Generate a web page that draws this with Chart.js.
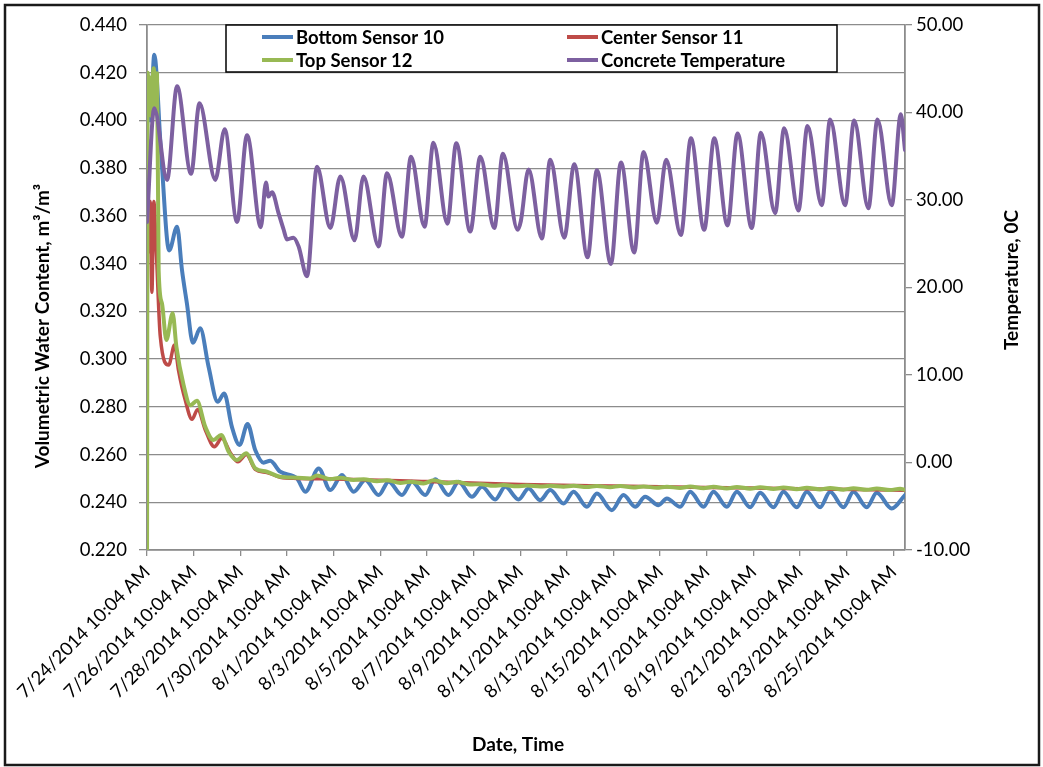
<!DOCTYPE html>
<html><head><meta charset="utf-8">
<script src="https://cdn.jsdelivr.net/npm/chart.js@4.4.0/dist/chart.umd.min.js"></script>
<style>html,body{margin:0;padding:0;background:#fff;}canvas{display:block;}</style>
</head><body>
<canvas id="c" width="1043" height="767" style="width:1043px;height:767px"></canvas>
<script>
// x values are days since 7/24/2014 10:04 AM
const tickDays = [0,2,4,6,8,10,12,14,16,18,20,22,24,26,28,30,32];
const tickLabels = ['7/24/2014 10:04 AM','7/26/2014 10:04 AM','7/28/2014 10:04 AM','7/30/2014 10:04 AM','8/1/2014 10:04 AM','8/3/2014 10:04 AM','8/5/2014 10:04 AM','8/7/2014 10:04 AM','8/9/2014 10:04 AM','8/11/2014 10:04 AM','8/13/2014 10:04 AM','8/15/2014 10:04 AM','8/17/2014 10:04 AM','8/19/2014 10:04 AM','8/21/2014 10:04 AM','8/23/2014 10:04 AM','8/25/2014 10:04 AM'];
const leftTicks = [0.22,0.24,0.26,0.28,0.30,0.32,0.34,0.36,0.38,0.40,0.42,0.44];
const rightTicks = [-10,0,10,20,30,40,50];

const bottomDays = [0.00,0.08,0.15,0.31,0.60,0.95,1.29,1.50,1.71,1.97,2.28,2.64,3.03,3.31,3.64,3.97,4.31,4.64,5.00,5.28,5.71,6.43,6.79,7.36,7.86,8.36,8.86,9.36,9.93,10.36,10.93,11.36,11.93,12.36,12.93,13.36,13.93,14.36,14.93,15.36,15.93,16.36,16.86,17.29,17.86,18.29,18.86,19.29,19.93,20.43,20.93,21.36,21.93,22.29,22.86,23.29,23.86,24.29,24.86,25.29,25.86,26.29,26.86,27.29,27.86,28.29,28.86,29.29,29.86,30.29,30.86,31.29,31.93,32.50];
const bottomVals = [0.395,0.418,0.400,0.4275,0.387,0.3455,0.3555,0.3373,0.3234,0.3068,0.3129,0.2968,0.2821,0.2856,0.2716,0.2640,0.2728,0.2619,0.2566,0.2574,0.2528,0.2500,0.2444,0.2542,0.2451,0.2514,0.2444,0.2493,0.2430,0.2486,0.2430,0.2486,0.2430,0.2496,0.2430,0.2486,0.2423,0.2465,0.2412,0.2465,0.2412,0.2458,0.2409,0.2451,0.2395,0.2444,0.2381,0.2437,0.2367,0.2430,0.2381,0.2423,0.2388,0.2416,0.2381,0.2444,0.2381,0.2444,0.2381,0.2444,0.2379,0.2440,0.2379,0.2444,0.2379,0.2444,0.2379,0.2444,0.2379,0.2444,0.2379,0.2440,0.2374,0.2430];

const centerDays = [0.00,0.03,0.08,0.14,0.21,0.29,0.40,0.57,0.93,1.18,1.35,1.64,1.93,2.17,2.50,2.89,3.21,3.57,3.90,4.26,4.64,5.14,5.71,6.43,8.00,12.00,16.00,20.00,24.00,28.00,32.50];
const centerVals = [0.255,0.392,0.345,0.366,0.328,0.366,0.345,0.3094,0.2975,0.3059,0.2954,0.2828,0.2748,0.2789,0.2703,0.2633,0.2668,0.2608,0.2570,0.2600,0.2538,0.2525,0.2505,0.2500,0.2498,0.2487,0.2475,0.2468,0.2462,0.2457,0.2450];

const topDays = [0.00,0.03,0.08,0.13,0.18,0.25,0.29,0.36,0.43,0.50,0.64,0.83,1.10,1.26,1.57,1.86,2.14,2.50,2.85,3.18,3.50,3.86,4.26,4.64,5.14,5.71,6.43,7.00,7.29,7.86,8.29,8.86,9.29,9.86,10.29,10.86,11.29,11.86,12.29,12.86,13.29,13.86,14.29,14.86,15.29,15.86,16.29,16.86,17.29,17.86,18.29,18.86,19.29,19.86,20.29,20.86,21.29,21.86,22.29,22.86,23.29,23.86,24.29,24.86,25.29,25.86,26.29,26.86,27.29,27.86,28.29,28.86,29.29,29.86,30.29,30.86,31.29,31.86,32.29,32.50];
const topVals = [0.200,0.420,0.405,0.418,0.402,0.419,0.4219,0.405,0.4198,0.337,0.3234,0.308,0.3192,0.3052,0.2891,0.2807,0.2825,0.2716,0.2661,0.2682,0.2612,0.2577,0.2605,0.2542,0.2528,0.2507,0.2503,0.2500,0.2512,0.2497,0.2503,0.2493,0.2497,0.2488,0.2492,0.2481,0.2486,0.2479,0.2492,0.2480,0.2486,0.2474,0.2476,0.2469,0.2472,0.2467,0.2470,0.2466,0.2469,0.2465,0.2469,0.2464,0.2468,0.2463,0.2468,0.2462,0.2466,0.2461,0.2465,0.2460,0.2466,0.2459,0.2465,0.2458,0.2464,0.2457,0.2463,0.2456,0.2462,0.2455,0.2461,0.2454,0.2460,0.2453,0.2459,0.2452,0.2458,0.2451,0.2457,0.2452];

const tempDays = [0.00,0.31,0.86,1.29,1.89,2.25,2.93,3.33,3.86,4.29,4.88,5.10,5.21,5.36,5.64,5.86,6.00,6.28,6.50,6.86,7.29,7.86,8.29,8.90,9.28,9.93,10.29,10.93,11.32,11.90,12.28,12.88,13.26,13.86,14.29,14.89,15.26,15.89,16.03,16.36,16.93,17.29,17.89,18.32,18.89,19.29,19.89,20.32,20.89,21.29,21.86,22.26,22.89,23.32,23.89,24.32,24.89,25.32,25.93,26.32,26.93,27.32,27.93,28.32,28.93,29.29,29.93,30.32,30.93,31.32,31.93,32.32,32.50];
const tempVals = [27.5,40.5,32.3,43.0,33.0,41.05,32.3,38.1,27.5,37.4,26.9,32.0,30.4,30.9,28.5,26.6,25.5,25.7,24.7,21.3,33.8,26.8,32.7,25.4,32.7,24.7,33.05,25.8,34.95,26.95,36.55,27.3,36.5,26.4,34.95,26.8,35.3,26.6,27.6,33.5,25.6,34.6,25.7,34.1,23.45,33.4,22.7,34.3,24.0,35.5,27.4,34.6,26.0,37.05,26.6,37.05,27.1,37.6,26.8,37.7,28.5,38.2,28.8,38.45,29.4,39.2,29.4,39.1,29.05,39.2,29.4,39.8,35.7];

const seriesNames = ['Bottom Sensor 10','Center Sensor 11','Top Sensor 12','Concrete Temperature'];
const seriesColors = ['#4A7EBB','#BE4B48','#98B954','#7D60A0'];

function pairs(xs, ys){ const n=Math.min(xs.length, ys.length); const out=[]; for(let i=0;i<n;i++) out.push({x:xs[i], y:ys[i]}); return out; }

const FONT = 'Lato';
const gridColor = '#8c8c8c';

const decor = {
  id:'decor',
  beforeDraw(chart){ const c=chart.ctx; c.save(); c.fillStyle='#fff'; c.fillRect(0,0,chart.width,chart.height); c.restore(); },
  afterDraw(chart){
    const c = chart.ctx; const a = chart.chartArea;
    c.save();
    // legend box
    const lx=226, ly=a.top, lw=611, lh=47;
    c.fillStyle='#fff'; c.fillRect(lx,ly,lw,lh);
    c.strokeStyle='#000'; c.lineWidth=1.5; c.strokeRect(lx,ly,lw,lh);
    const pos = [[262,37],[567,37],[262,60],[567,60]];
    c.font = 'bold 18.5px '+FONT; c.textBaseline='middle'; c.textAlign='left';
    [0,1,2,3].forEach((di,k)=>{
      const [x,y]=pos[k];
      c.strokeStyle=seriesColors[di]; c.lineWidth=4; c.lineCap='butt';
      c.beginPath(); c.moveTo(x,y); c.lineTo(x+31,y); c.stroke();
      c.fillStyle='#000'; c.fillText(seriesNames[di], x+34, y+1);
    });
    // axis titles
    c.font='bold 19px '+FONT; c.fillStyle='#000'; c.textAlign='center'; c.textBaseline='middle';
    c.save(); c.translate(43,326); c.rotate(-Math.PI/2); c.fillText('Volumetric Water Content, m³/m³',0,0); c.restore();
    c.save(); c.translate(1012,280); c.rotate(-Math.PI/2); c.fillText('Temperature, 0C',0,0); c.restore();
    c.fillText('Date, Time', 518, 745);
    // outer frame
    c.strokeStyle='#1a1a1a'; c.lineWidth=2.5; c.strokeRect(5,5,1034,760);
    c.restore();
  }
};

function ds(i, xs, ys, axis, width, order){
  return { label:seriesNames[i], data:pairs(xs,ys), yAxisID:axis, borderColor:seriesColors[i], backgroundColor:seriesColors[i],
    borderWidth:width, pointRadius:0, pointHoverRadius:0, fill:false, cubicInterpolationMode:'monotone', tension:0.4,
    borderJoinStyle:'round', borderCapStyle:'round', order:order };
}

new Chart(document.getElementById('c'), {
  type:'line',
  data:{ datasets:[
    ds(0, bottomDays, bottomVals, 'y', 4, 3),
    ds(1, centerDays, centerVals, 'y', 3.5, 2),
    ds(2, topDays, topVals, 'y', 4, 1),
    ds(3, tempDays, tempVals, 'y1', 4, 0)
  ]},
  options:{
    responsive:false, animation:false, devicePixelRatio:1,
    layout:{ padding:{ top:25, left:0, right:0, bottom:0 } },
    plugins:{ legend:{display:false}, tooltip:{enabled:false}, title:{display:false} },
    scales:{
      x:{ type:'linear', position:'bottom', min:0, max:32.5,
        afterBuildTicks:(s)=>{ s.ticks = tickDays.map(v=>({value:v})); },
        afterFit:(s)=>{ s.height = 217; },
        grid:{ drawOnChartArea:false, drawTicks:true, tickLength:6, color:gridColor, lineWidth:1.3 },
        border:{ display:true, color:gridColor, width:1.8 },
        ticks:{ autoSkip:false, maxRotation:45, minRotation:45, padding:5, color:'#000', font:{family:FONT, size:18.5},
          callback:(v)=>{ const i=tickDays.indexOf(v); return i>=0 ? tickLabels[i] : ''; } }
      },
      y:{ type:'linear', position:'left', min:0.22, max:0.44,
        afterBuildTicks:(s)=>{ s.ticks = leftTicks.map(v=>({value:v})); },
        afterFit:(s)=>{ s.width = 147; },
        grid:{ color:gridColor, lineWidth:1.3, tickLength:8, drawTicks:true },
        border:{ display:true, color:gridColor, width:1.8 },
        ticks:{ padding:12, color:'#000', font:{family:FONT, size:18.5}, callback:(v)=>Number(v).toFixed(3) }
      },
      y1:{ type:'linear', position:'right', min:-10, max:50,
        afterBuildTicks:(s)=>{ s.ticks = rightTicks.map(v=>({value:v})); },
        afterFit:(s)=>{ s.width = 138; },
        grid:{ drawOnChartArea:false, drawTicks:true, tickLength:7, color:gridColor, lineWidth:1.3 },
        border:{ display:true, color:gridColor, width:1.8 },
        ticks:{ padding:4, color:'#000', font:{family:FONT, size:18.5}, callback:(v)=>Number(v).toFixed(2) }
      }
    }
  },
  plugins:[decor]
});
</script>
</body></html>
